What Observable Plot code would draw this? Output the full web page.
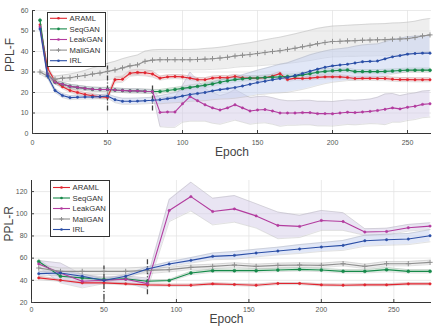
<!DOCTYPE html>
<html><head><meta charset="utf-8">
<script src="https://cdn.jsdelivr.net/npm/d3@7"></script>
<script src="https://cdn.jsdelivr.net/npm/@observablehq/plot@0.6"></script>
<style>
body{margin:0;background:#fff;font-family:"Liberation Sans",Arial,sans-serif;}
.panel{position:relative;width:433px;height:164px;overflow:hidden;}
.panel svg.leg{position:absolute;}
</style></head><body>
<div id="top" class="panel"></div>
<div id="bottom" class="panel"></div>
<script>
// ---------- data ----------
const seriesNames = ["ARAML","SeqGAN","LeakGAN","MaliGAN","IRL"];
const lineColors = ["#e0252f","#17894a","#b23b9e","#8f8f8f","#2a4ea6"];
const bandColors = ["#f4b3b7","#b9e0c6","#d3cce8","#dedede","#c3cff0"];
const symbols = ["circle","circle","circle","plus","circle"];

// top panel (PPL-F)
const epochsF = [5,10,15,20,25,30,35,40,45,50,55,60,65,70,75,80,85,90,95,100,105,110,115,120,125,130,135,140,145,150,155,160,165,170,175,180,185,190,195,200,205,210,215,220,225,230,235,240,245,250,255,260,265];
const fARAML = [53,32,25.5,22.8,21,20,19,18.4,17.9,17.6,26.2,26.5,29.4,29.8,29.6,29,27,27.6,27.8,27.6,27,26.3,26.2,27,27.3,27.2,27.8,27.2,27,27,27.2,28,29.2,26.3,27,26.8,27,27.4,27.6,27.6,27.6,27.3,26.8,26.9,26.9,26.8,26.8,26.5,26.3,26.3,26.2,26.2,26.2];
const fSeqGAN = [55.3,29,25,24,23,22.5,22,21.6,21.5,21.5,21.2,21,20.8,20.8,20.6,20.5,20.5,21,21.5,22,22.5,23,23.5,24.2,25,25.7,26.3,26.7,27,27.1,27.3,27.5,27.6,27.8,28,28.6,29.2,29.9,30.3,30.6,30.8,31,30.2,30.2,30.2,30.2,30.3,30.5,30.7,30.9,30.9,30.9,30.9];
const fLeakGAN = [52,29,25,24,23,22.5,22,21.6,21.5,21.5,21.2,21,20.8,20.8,20.6,20.5,10.3,10.5,10.5,14.5,18,16,14,12.5,11.5,12.5,14,12.5,11,11.5,11.7,11,10,10,10,10.2,10.2,9.7,9.7,9.6,10,10.4,10.2,10.5,10.8,11.2,11.8,12.5,12,12.8,13.3,14.2,14.5];
const fMaliGAN = [30,28,26.5,27,27.2,27.8,28.3,29,29.5,30.3,31,32,33,33.5,35.2,35.8,36,36,36,36,36,36.1,36.3,36.5,36.8,37.2,37.8,38.2,38.5,39,39.5,40,40.4,41,41.6,42.3,43,43.8,44.4,44.9,45,45.2,45.3,45.5,45.6,45.7,45.8,46,46.1,46.3,46.8,47.6,48.1];
const fIRL = [51,28,21,18.5,17.5,17.7,17.8,17.8,18,18.3,16.5,15.7,15.7,15.8,16,16.2,16.5,17,17.5,18.3,19,19.5,20,20.8,21.4,21.9,22.4,23.2,24,24.9,25.5,26.2,26.8,27.3,28.3,29.3,30.4,31.4,32.3,33,33.4,33.8,34.4,35,35.2,35.4,36.4,37.4,38,38.7,39,39.2,39.2];
const sfARAML = [1,1,1,1,1,1,1,1,1,1,1.5,1.5,1.5,1.5,1.5,1.5,1,1,1,1,1,1,1,1,1,1,1,1,1,1,1,1,1,1,1,1,1,1,1,1,1,1,1,1,1,1,1,1,1,1,1,1,1];
const sfSeqGAN = [1,1,1,1,1,1,1,1,1,1,1,1,1,1,1,1,1,1,1,1,1.2,1.2,1.2,1.2,1.2,1.2,1.2,1.2,1.2,1.2,1.2,1.2,1.2,1.2,1.2,1.2,1.2,1.2,1.2,1.2,1,1,1,1,1,1,1,1,1,1,1,1,1];
const sfLeakGAN = [1,1,1,1,1,1,1,1,1,1,1,1,1,1,1,1,7,7.5,7.5,9,12,10,8,7.5,7,7,7.5,7,6.5,6.5,6.5,6.5,6.5,6,6,6,6,6,6,6,6,6,6,6,6,6.5,7.5,7,6.5,6.5,6.5,6.5,6.5];
const sfMaliGAN = [1,1.2,1.5,1.5,1.8,2,2.5,3,3.5,4,4.2,4.5,4.5,4.8,5,5,5,5,5,5,5,5,5.2,5.2,5.3,5.4,5.5,5.6,5.8,6,6.2,6.4,6.6,6.8,7,7.2,7.4,7.5,7.5,7.5,7.6,7.6,7.7,7.7,7.8,7.8,7.8,7.9,7.9,8,8,8,8];
const sfIRL = [1,1,1,1,1,1,1,1,1,1,1.5,1.5,1.5,1.5,1.5,1.5,2,2.2,2.5,3,3.3,3.6,4,4.3,4.6,5,5.2,5.5,5.8,6,6.3,6.6,7,7.2,7.5,7.8,8,8,8,8,8,8,8.2,8.2,8.3,8.3,8.4,8.4,8.5,8.5,8.5,8.5,8.5];

// bottom panel (PPL-R)
const epochsR = [5,20,35,50,65,80,95,110,125,140,155,170,185,200,215,230,245,260,275];
const rARAML = [42.2,40,37.7,37.7,36.8,35.9,35.6,35.6,36.8,36.2,35.6,37.1,37.1,35.9,35.6,35.9,35.9,36.8,36.8];
const rSeqGAN = [57,43.7,42.2,40.7,41.3,39.2,39.8,46.6,48.7,48.7,48.7,49.3,49.9,49.3,48.1,48.1,49.6,48.1,48.1];
const rLeakGAN = [54.8,46.6,39.2,40,41,37,102.9,115.5,102,104.4,98.1,89.5,88.6,94,93,83.5,84,87.4,88.9];
const rMaliGAN = [51.1,48.1,48.1,48.1,48.1,49,49.6,51.7,52.6,53.8,52.6,53.5,53.8,53.5,55,52.6,55,55,56.2];
const rIRL = [46,46.6,43.7,39.8,43.7,50.2,54.7,58,61.6,62.5,64.6,66.4,68.2,70,71.5,75.7,76.6,77.2,80.2];
const srARAML = [1.5,1,1,1,1,1,1,1,1,1,1,1,1,1,1,1,1,1,1];
const srSeqGAN = [2,1.5,1.5,1.5,1.5,1,1,1.5,1.5,1.5,1.5,1.5,1.5,1.5,1.5,1.5,2,1.5,1.5];
const srLeakGAN = [3,9,6,3,3,5,10,13,12,12,11,12,10,9,8,3,3,3,3];
const srMaliGAN = [3,3,3,3,3,3,2,2,2,2,2,2,2,2,2,2,2,2,2];
const srIRL = [2,2,2,1.5,1.5,2,2,2.5,3,3.5,3.5,3.5,4,4,4.5,5,5,5,5.5];

// axis ticks
const xTicksF = [0,50,100,150,200,250];
const yTicksF = [0,10,20,30,40,50,60];
const xTicksR = [0,50,100,150,200,250];
const yTicksR = [20,40,60,80,100,120];

// stage markers (dash-dot lines)
const stageEpochs = [50,80];
const stageLowF = [11,11], stageHighF = [34,24];
const stageLowR = [22.7,27], stageHighR = [53,60];

// ---------- build ----------
function rowsFor(epochs, vals, spreads) {
  return epochs.map((e,i)=>({epoch:e, v:vals[i], lo:vals[i]-spreads[i], hi:vals[i]+spreads[i]}));
}

function makePanel(cfg) {
  const marks = [
    Plot.gridX(cfg.xTicks, {stroke:"#e4e4e4", strokeOpacity:1, strokeWidth:0.8}),
    Plot.gridY(cfg.yTicks, {stroke:"#e4e4e4", strokeOpacity:1, strokeWidth:0.8}),
  ];
  cfg.series.forEach((s,i)=>{
    const rows = rowsFor(cfg.epochs, s.vals, s.spread);
    marks.push(Plot.areaY(rows, {x:"epoch", y1:"lo", y2:"hi", fill:bandColors[i], fillOpacity:0.5, curve:"linear"}));
    marks.push(Plot.lineY(rows, {x:"epoch", y:"lo", stroke:"#9a9a9a", strokeOpacity:0.5, strokeWidth:0.6}));
    marks.push(Plot.lineY(rows, {x:"epoch", y:"hi", stroke:"#9a9a9a", strokeOpacity:0.5, strokeWidth:0.6}));
  });
  const stages = stageEpochs.map((e,i)=>({e, lo:cfg.stageLow[i], hi:cfg.stageHigh[i]}));
  marks.push(Plot.ruleX(stages, {x:"e", y1:"lo", y2:"hi", stroke:"#444", strokeWidth:1.3, strokeDasharray:"5,2,1,2"}));
  cfg.series.forEach((s,i)=>{
    const rows = rowsFor(cfg.epochs, s.vals, s.spread);
    marks.push(Plot.lineY(rows, {x:"epoch", y:"v", stroke:lineColors[i], strokeWidth:1.1}));
    if (symbols[i] === "plus")
      marks.push(Plot.dot(rows, {x:"epoch", y:"v", symbol:"plus", r:1.8, stroke:lineColors[i], strokeWidth:1}));
    else
      marks.push(Plot.dot(rows, {x:"epoch", y:"v", r: i===1 ? 1.5 : 1.2, fill:lineColors[i], stroke:lineColors[i], strokeWidth:0.5}));
  });
  marks.push(Plot.ruleX([cfg.xDomain[0]], {stroke:"#333", strokeWidth:1}));
  marks.push(Plot.ruleY([cfg.yDomain[0]], {stroke:"#333", strokeWidth:1}));
  marks.push(Plot.axisX(cfg.xTicks, {tickSize:-3, tickPadding:cfg.xPad, fontSize:7, fill:"#555", stroke:"#444", label:null}));
  marks.push(Plot.axisY(cfg.yTicks, {tickSize:-3, tickPadding:7, fontSize:7, fill:"#555", stroke:"#444", label:null}));
  marks.push(Plot.text(["Epoch"], {frameAnchor:"bottom", dy:cfg.labelDy, dx:cfg.labelDx, fontSize:12, fill:"#444", textAnchor:"middle"}));
  marks.push(Plot.text([cfg.yLabel], {frameAnchor:"left", rotate:-90, dx:-22, fontSize:12, fill:"#444"}));

  const svg = Plot.plot({
    width:433, height:164,
    marginLeft:cfg.marginLeft, marginRight:2, marginTop:cfg.marginTop, marginBottom:cfg.marginBottom,
    x:{domain:cfg.xDomain, axis:null},
    y:{domain:cfg.yDomain, axis:null},
    style:{fontFamily:'"Liberation Sans", Arial, sans-serif', background:"transparent", overflow:"visible"},
    marks
  });
  const host = document.getElementById(cfg.id);
  host.appendChild(svg);

  const L = cfg.legend;
  const leg = d3.select(host).append("svg").attr("class","leg")
    .style("left", L.x+"px").style("top", L.y+"px")
    .attr("width", L.w).attr("height", L.h);
  leg.append("rect").attr("x",0.5).attr("y",0.5).attr("width",L.w-1).attr("height",L.h-1)
    .attr("fill","#fff").attr("stroke","#333").attr("stroke-width",1);
  seriesNames.forEach((name,i)=>{
    const y = L.first + i*L.step;
    leg.append("line").attr("x1",3).attr("x2",20).attr("y1",y).attr("y2",y)
      .attr("stroke",lineColors[i]).attr("stroke-width",1.1);
    if (symbols[i]==="plus") {
      leg.append("path").attr("d",`M${11.5-2},${y}h4M11.5,${y-2}v4`).attr("stroke",lineColors[i]).attr("stroke-width",1);
    } else {
      leg.append("circle").attr("cx",11.5).attr("cy",y).attr("r",1.3).attr("fill",lineColors[i]);
    }
    leg.append("text").attr("x",22.5).attr("y",y).attr("dy","0.35em")
      .attr("font-size",7.7).attr("fill","#333")
      .attr("font-family",'"Liberation Sans", Arial, sans-serif').text(name);
  });
}

makePanel({
  id:"top", epochs:epochsF,
  series:[
    {vals:fARAML, spread:sfARAML},
    {vals:fSeqGAN, spread:sfSeqGAN},
    {vals:fLeakGAN, spread:sfLeakGAN},
    {vals:fMaliGAN, spread:sfMaliGAN},
    {vals:fIRL, spread:sfIRL}
  ],
  xDomain:[0,266], yDomain:[0,60], xTicks:xTicksF, yTicks:yTicksF,
  marginLeft:32, marginTop:10, marginBottom:31, xPad:10, labelDy:22, labelDx:0,
  yLabel:"PPL-F", stageLow:stageLowF, stageHigh:stageHighF,
  legend:{x:47, y:12, w:59, h:55, first:6.3, step:10.6}
});
makePanel({
  id:"bottom", epochs:epochsR,
  series:[
    {vals:rARAML, spread:srARAML},
    {vals:rSeqGAN, spread:srSeqGAN},
    {vals:rLeakGAN, spread:srLeakGAN},
    {vals:rMaliGAN, spread:srMaliGAN},
    {vals:rIRL, spread:srIRL}
  ],
  xDomain:[0,276], yDomain:[20,130], xTicks:xTicksR, yTicks:yTicksR,
  marginLeft:31, marginTop:16, marginBottom:26, xPad:8, labelDy:20, labelDx:-5,
  yLabel:"PPL-R", stageLow:stageLowR, stageHigh:stageHighR,
  legend:{x:50, y:16, w:60, h:57, first:7.5, step:10.5}
});
</script>
</body></html>
